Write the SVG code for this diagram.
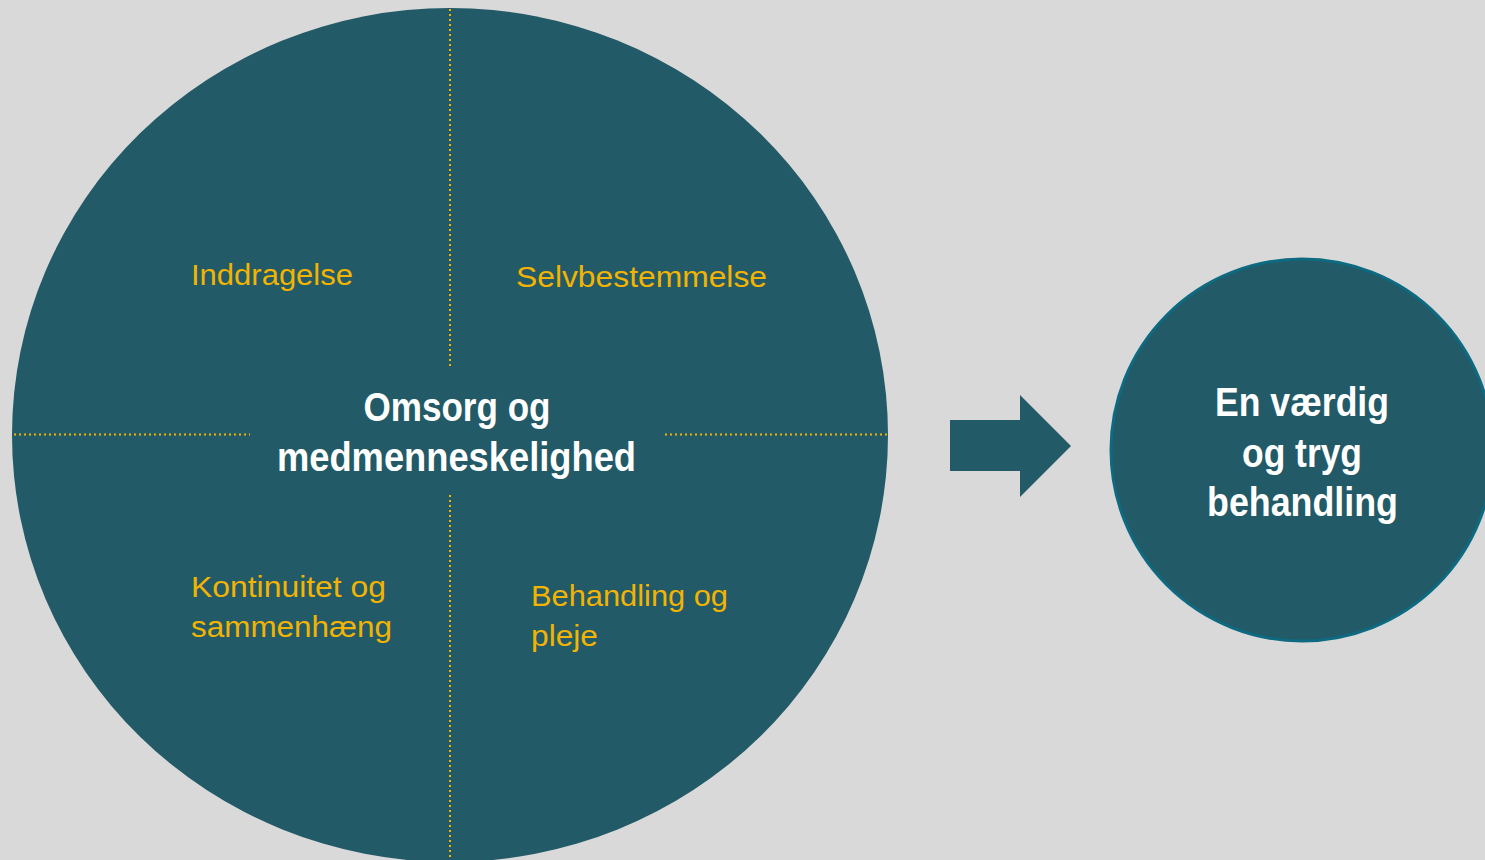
<svg xmlns="http://www.w3.org/2000/svg" width="1485" height="860" viewBox="0 0 1485 860">
  <style>
    .disc { fill: #225a68; }
    .divider { stroke: #f2b400; stroke-width: 2; stroke-dasharray: 2 3; fill: none; }
    .title { font-family: "Liberation Sans", Arial, sans-serif; font-weight: bold; fill: #ffffff; font-size: 40px; }
    .label { font-family: "Liberation Sans", Arial, sans-serif; fill: #f2b400; font-size: 30px; }
  </style>
  <rect width="1485" height="860" fill="#d9d9d9"/>

  <!-- main disc with its four quadrants -->
  <g id="main-disc">
    <ellipse class="disc" cx="450" cy="435" rx="438" ry="427"/>
    <g id="dividers">
      <line class="divider" x1="450" y1="9" x2="450" y2="368"/>
      <line class="divider" x1="450" y1="495" x2="450" y2="860"/>
      <line class="divider" x1="14" y1="434.5" x2="250" y2="434.5"/>
      <line class="divider" x1="665" y1="434.5" x2="887" y2="434.5"/>
    </g>
    <text class="title" text-anchor="middle" x="457" y="421" textLength="187" lengthAdjust="spacingAndGlyphs">Omsorg og</text>
    <text class="title" text-anchor="middle" x="456.5" y="471" textLength="359" lengthAdjust="spacingAndGlyphs">medmenneskelighed</text>
  </g>

  <g id="q-inddragelse">
    <text class="label" x="191" y="285" textLength="162" lengthAdjust="spacingAndGlyphs">Inddragelse</text>
  </g>
  <g id="q-selvbestemmelse">
    <text class="label" x="516" y="287" textLength="251" lengthAdjust="spacingAndGlyphs">Selvbestemmelse</text>
  </g>
  <g id="q-kontinuitet">
    <text class="label" x="191" y="597" textLength="195" lengthAdjust="spacingAndGlyphs">Kontinuitet og</text>
    <text class="label" x="191" y="637" textLength="201" lengthAdjust="spacingAndGlyphs">sammenhæng</text>
  </g>
  <g id="q-behandling">
    <text class="label" x="531" y="606" textLength="197" lengthAdjust="spacingAndGlyphs">Behandling og</text>
    <text class="label" x="531" y="646" textLength="67" lengthAdjust="spacingAndGlyphs">pleje</text>
  </g>

  <!-- connector -->
  <g id="connectors">
    <polygon class="disc" points="950,420 1020,420 1020,395 1071,446 1020,497 1020,471 950,471"/>
  </g>

  <g id="result">
    <circle class="disc" cx="1302" cy="450" r="191" stroke="#0d6a80" stroke-width="3"/>
    <text class="title" text-anchor="middle" x="1302" y="416" textLength="174" lengthAdjust="spacingAndGlyphs">En værdig</text>
    <text class="title" text-anchor="middle" x="1302" y="467" textLength="120" lengthAdjust="spacingAndGlyphs">og tryg</text>
    <text class="title" text-anchor="middle" x="1302.5" y="516" textLength="191" lengthAdjust="spacingAndGlyphs">behandling</text>
  </g>
</svg>
